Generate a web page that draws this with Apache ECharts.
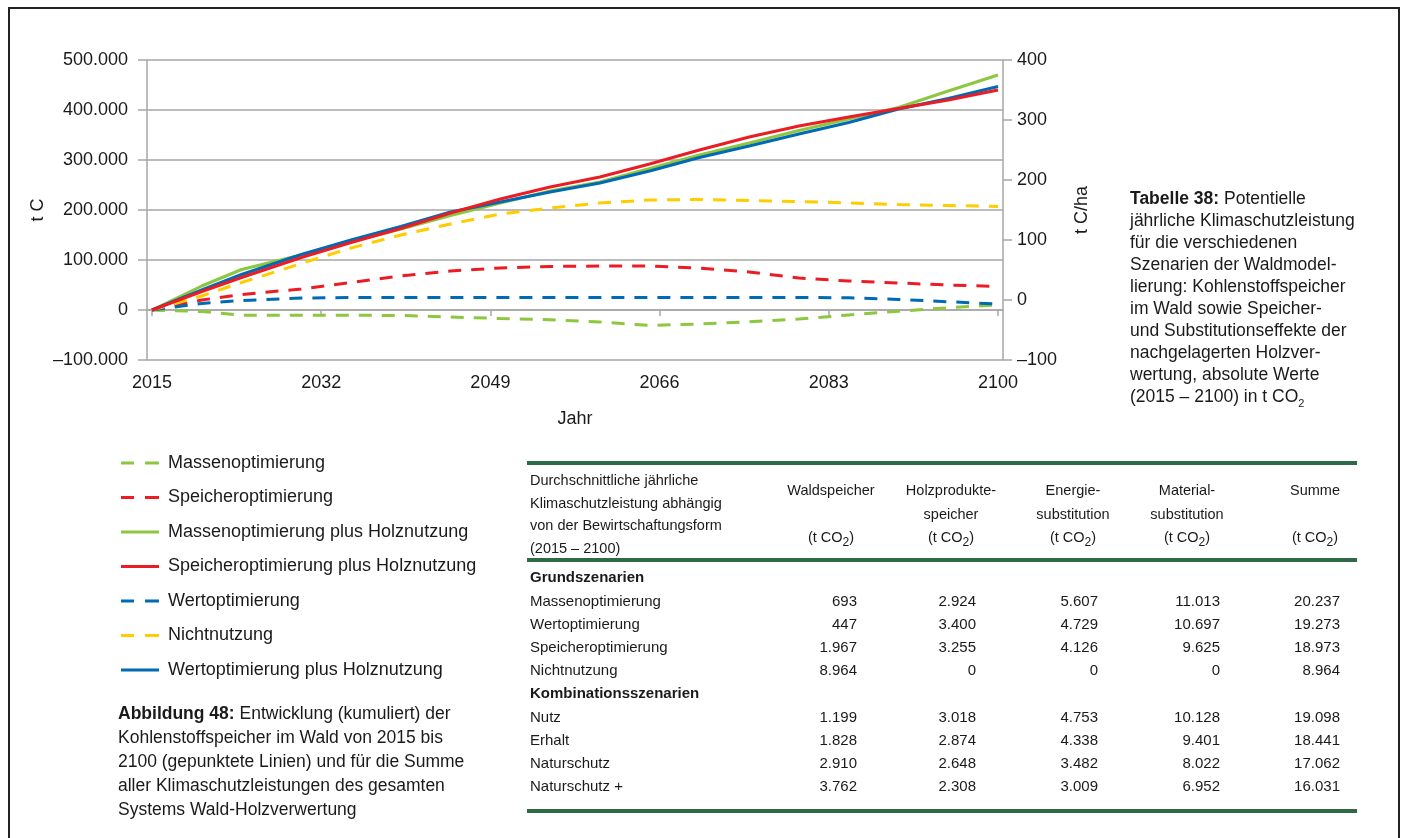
<!DOCTYPE html>
<html>
<head>
<meta charset="utf-8">
<script src="https://cdn.jsdelivr.net/npm/echarts@6/dist/echarts.min.js"></script>
<style>
  body { margin: 0; background: #fff; font-family: "Liberation Sans", Arial, sans-serif; color: #1a1a1a; }
  #chart { position: absolute; left: 0; top: 0; width: 1407px; height: 838px; }
  .frame { position: absolute; left: 8px; top: 7px; width: 1388px; height: 900px;
           border-left: 2px solid #222; border-top: 2px solid #222; border-right: 2px solid #222; }
  .txt { position: absolute; white-space: nowrap; }
  .cap { font-size: 17.5px; line-height: 22px; }
  .cap2 { font-size: 17.5px; line-height: 24px; }
  .rule { position: absolute; left: 527px; width: 830px; height: 4px; background: #2d6a45; }
  .th { font-size: 14.5px; line-height: 23.5px; text-align: center; }
  .td { font-size: 15px; line-height: 23.2px; }
</style>
</head>
<body>
<div id="chart"></div>
<div class="frame"></div>
<div id="overlay"></div>
<script>
// Jahre der Stützpunkte
const years = [2015, 2020, 2024, 2030, 2035, 2040, 2045, 2050, 2055, 2060, 2065, 2070, 2075, 2080, 2085, 2090, 2095, 2100];
const xTicks = [2015, 2032, 2049, 2066, 2083, 2100];

// Kohlenstoffspeicher im Wald (t C)
const massen = [0, -3000, -10500, -10500, -10500, -11000, -14000, -17000, -19500, -24000, -31000, -28000, -23500, -18000, -10000, -2500, 4500, 10000];
const speicher = [0, 20000, 31000, 42000, 55000, 68000, 78000, 84000, 87000, 88000, 88000, 84000, 76000, 64000, 58000, 54000, 50000, 47000];
const wert = [0, 13000, 19000, 24000, 25000, 25000, 25000, 25000, 25000, 25000, 25000, 25000, 25000, 25000, 24500, 21000, 16500, 12000];
const nicht = [0, 28000, 55000, 93000, 124000, 150000, 172000, 192000, 204000, 214000, 220000, 221000, 219000, 217000, 214000, 211000, 209000, 207000];
// Summe Wald + Holzverwertung (t C)
const massenHolz = [0, 48000, 81000, 110000, 137000, 162000, 189000, 214000, 238000, 256000, 283000, 310000, 334000, 359000, 382000, 405000, 438000, 470000];
const speicherHolz = [0, 37000, 65000, 105000, 135000, 163000, 194000, 222000, 246000, 266000, 292000, 320000, 346000, 368000, 386000, 403000, 420000, 440000];
const wertHolz = [0, 40000, 71000, 111000, 140000, 167000, 196000, 216000, 236000, 254000, 278000, 305000, 328000, 352000, 375000, 402000, 423000, 447000];

// Tabelle 38
const headLeft = ['Durchschnittliche jährliche', 'Klimaschutzleistung abhängig', 'von der Bewirtschaftungsform', '(2015 – 2100)'];
const headCols = [
  ['Waldspeicher', '', '(t CO<sub>2</sub>)'],
  ['Holzprodukte-', 'speicher', '(t CO<sub>2</sub>)'],
  ['Energie-', 'substitution', '(t CO<sub>2</sub>)'],
  ['Material-', 'substitution', '(t CO<sub>2</sub>)'],
  ['Summe', '', '(t CO<sub>2</sub>)']
];
const grundNames = ['Massenoptimierung', 'Wertoptimierung', 'Speicheroptimierung', 'Nichtnutzung'];
const grundVals = [
  [693, 2924, 5607, 11013, 20237],
  [447, 3400, 4729, 10697, 19273],
  [1967, 3255, 4126, 9625, 18973],
  [8964, 0, 0, 0, 8964]
];
const kombiNames = ['Nutz', 'Erhalt', 'Naturschutz', 'Naturschutz +'];
const kombiVals = [
  [1199, 3018, 4753, 10128, 19098],
  [1828, 2874, 4338, 9401, 18441],
  [2910, 2648, 3482, 8022, 17062],
  [3762, 2308, 3009, 6952, 16031]
];

const GREEN = '#8dc63f', RED = '#ec1c24', BLUE = '#006ab4', YELLOW = '#ffcc00';
const AXIS = '#a6a6a6';
const FONT = '"Liberation Sans", Arial, sans-serif';
const dash = [13, 10];
const ICON_DASH = 'path://M0,0h13v3h-13z M24,0h14v3h-14z';
const ICON_SOLID = 'path://M0,0h38v3h-38z';

function line(name, vals, color, dashed, z) {
  return {
    name: name,
    type: 'line',
    data: years.map((y, i) => [y, vals[i]]),
    symbol: 'none',
    z: z,
    lineStyle: { color: color, width: 3, type: dashed ? dash : 'solid' },
    itemStyle: { color: color },
    emphasis: { disabled: true }
  };
}

const seriesList = [
  line('Massenoptimierung', massen, GREEN, true, 2),
  line('Speicheroptimierung', speicher, RED, true, 2),
  line('Massenoptimierung plus Holznutzung', massenHolz, GREEN, false, 3),
  line('Speicheroptimierung plus Holznutzung', speicherHolz, RED, false, 5),
  line('Wertoptimierung', wert, BLUE, true, 2),
  line('Nichtnutzung', nicht, YELLOW, true, 2),
  line('Wertoptimierung plus Holznutzung', wertHolz, BLUE, false, 4)
];

const de = v => v.toLocaleString('de-DE').replace('-', '–');

const chart = echarts.init(document.getElementById('chart'));
chart.setOption({
  animation: false,
  textStyle: { fontFamily: FONT, color: '#1a1a1a' },
  grid: { left: 147, right: 404, top: 60, bottom: 478, outerBoundsMode: 'none' },
  legend: {
    orient: 'vertical',
    left: 116,
    top: 449,
    itemWidth: 38,
    itemHeight: 14,
    itemGap: 16.5,
    symbolKeepAspect: true,
    textStyle: { fontSize: 18, color: '#1a1a1a', fontFamily: FONT, padding: [0, 0, 0, 4] },
    data: seriesList.map(s => ({
      name: s.name,
      icon: s.lineStyle.type === 'solid' ? ICON_SOLID : ICON_DASH
    }))
  },
  xAxis: {
    type: 'value',
    min: 2014.5,
    max: 2100.5,
    name: 'Jahr',
    nameLocation: 'middle',
    nameGap: 50,
    nameTextStyle: { fontSize: 18, color: '#1a1a1a' },
    axisLine: { lineStyle: { color: AXIS, width: 1.5 } },
    axisTick: { show: true, length: 6, customValues: xTicks, lineStyle: { color: AXIS, width: 1.5 } },
    axisLabel: { customValues: xTicks, fontSize: 18, color: '#1a1a1a', margin: 14, formatter: v => String(v) },
    splitLine: { show: false }
  },
  yAxis: [
    {
      type: 'value',
      position: 'left',
      min: -100000,
      max: 500000,
      interval: 100000,
      name: 't C',
      nameLocation: 'middle',
      nameGap: 100,
      nameMoveOverlap: false,
      nameTextStyle: { fontSize: 18, color: '#1a1a1a' },
      axisLine: { show: true, lineStyle: { color: AXIS, width: 1.5 } },
      axisTick: { show: true, length: 9, lineStyle: { color: AXIS, width: 1.5 } },
      axisLabel: { fontSize: 18, color: '#1a1a1a', margin: 19, formatter: de },
      splitLine: { show: true, lineStyle: { color: AXIS, width: 1.5 } }
    },
    {
      type: 'value',
      position: 'right',
      min: -100,
      max: 400,
      interval: 100,
      name: 't C/ha',
      nameLocation: 'middle',
      nameGap: 70,
      nameTextStyle: { fontSize: 18, color: '#1a1a1a' },
      axisLine: { show: true, lineStyle: { color: AXIS, width: 1.5 } },
      axisTick: { show: true, length: 9, lineStyle: { color: AXIS, width: 1.5 } },
      axisLabel: { fontSize: 18, color: '#1a1a1a', margin: 14, formatter: de },
      splitLine: { show: false }
    }
  ],
  series: seriesList
});

// Beschriftungen und Tabelle
const ov = document.getElementById('overlay');
function put(html, cls, left, top, extra) {
  const d = document.createElement('div');
  d.className = 'txt ' + cls;
  d.style.left = left + 'px';
  d.style.top = top + 'px';
  if (extra) Object.assign(d.style, extra);
  d.innerHTML = html;
  ov.appendChild(d);
  return d;
}

put('<b>Tabelle 38:</b> Potentielle<br>jährliche Klimaschutzleistung<br>für die verschiedenen<br>Szenarien der Waldmodel-<br>lierung: Kohlenstoffspeicher<br>im Wald sowie Speicher-<br>und Substitutionseffekte der<br>nachgelagerten Holzver-<br>wertung, absolute Werte<br>(2015 – 2100) in t CO<sub style="font-size:11px">2</sub>',
  'cap', 1130, 187);

put('<b>Abbildung 48:</b> Entwicklung (kumuliert) der<br>Kohlenstoffspeicher im Wald von 2015 bis<br>2100 (gepunktete Linien) und für die Summe<br>aller Klimaschutzleistungen des gesamten<br>Systems Wald-Holzverwertung',
  'cap2', 118, 701);

[461, 558, 809].forEach(t => {
  const r = document.createElement('div');
  r.className = 'rule';
  r.style.top = t + 'px';
  ov.appendChild(r);
});

const colCenter = [831, 951, 1073, 1187, 1315];
const colRight = [857, 976, 1098, 1220, 1340];

put(headLeft.join('<br>'), 'th', 530, 469, { textAlign: 'left', lineHeight: '22.7px' });
headCols.forEach((c, i) => {
  put(c.map(s => s || '&nbsp;').join('<br>'), 'th', colCenter[i] - 70, 479, { width: '140px' });
});

let rowTop = 577 - 11.6;
const pitch = 23.2;
function section(title, names, vals) {
  put('<b>' + title + '</b>', 'td', 530, rowTop);
  rowTop += pitch;
  names.forEach((n, i) => {
    put(n, 'td', 530, rowTop);
    vals[i].forEach((v, j) => {
      put(v.toLocaleString('de-DE'), 'td', colRight[j] - 100, rowTop, { width: '100px', textAlign: 'right' });
    });
    rowTop += pitch;
  });
}
section('Grundszenarien', grundNames, grundVals);
section('Kombinationsszenarien', kombiNames, kombiVals);
</script>
</body>
</html>
